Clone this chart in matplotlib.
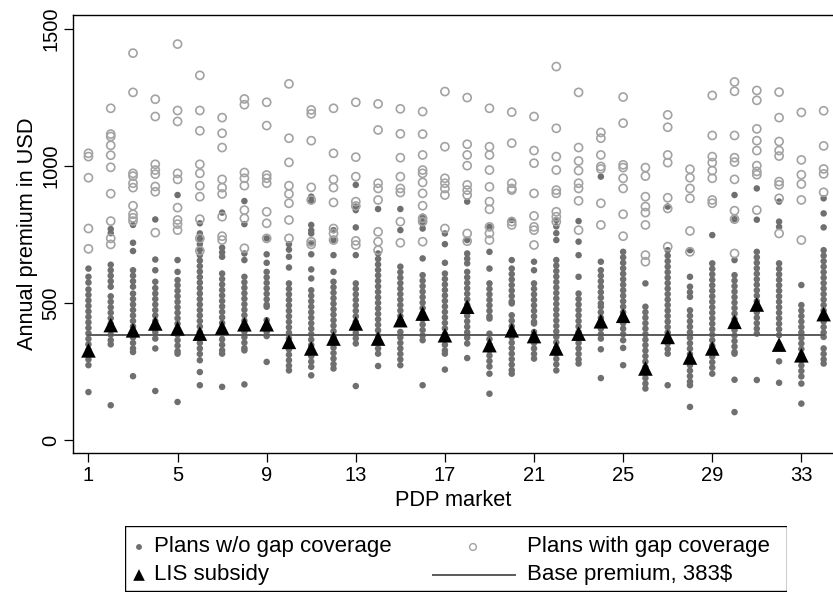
import matplotlib
matplotlib.use("Agg")
import matplotlib.pyplot as plt
from matplotlib.patches import Rectangle
from matplotlib.lines import Line2D

plt.rcParams['font.family'] = ['Liberation Sans', 'DejaVu Sans']

markets = list(range(1, 35))
base_premium = 383

lis_subsidy = [328, 420, 401, 426, 408, 389, 411, 423, 423, 359, 335, 371, 426, 371,
               438, 462, 383, 487, 347, 401, 380, 335, 389, 434, 454, 262, 377, 302,
               335, 432, 495, 349, 310, 460]

plans_no_gap = [
    [626, 596, 575, 550, 530, 510, 490, 470, 450, 430, 410, 390, 370, 350, 330, 310, 295, 274, 176],
    [770, 755, 640, 620, 600, 580, 560, 525, 505, 485, 465, 445, 425, 405, 385, 365, 350, 128],
    [785, 720, 690, 620, 600, 580, 560, 535, 515, 495, 475, 455, 435, 415, 395, 375, 355, 335, 322, 234],
    [805, 659, 620, 578, 555, 535, 515, 495, 475, 455, 435, 415, 395, 371, 335, 180],
    [894, 657, 614, 584, 565, 545, 525, 505, 485, 465, 445, 425, 405, 385, 365, 345, 325, 316, 140],
    [791, 754, 735, 715, 695, 675, 655, 635, 615, 595, 575, 555, 535, 515, 495, 475, 455, 435, 415,
     395, 375, 355, 335, 315, 292, 249, 201],
    [830, 702, 685, 669, 608, 588, 568, 548, 528, 508, 488, 468, 448, 428, 408, 388, 368, 348, 328, 316, 195],
    [872, 788, 681, 657, 596, 576, 556, 536, 516, 496, 476, 456, 436, 416, 396, 376, 356, 336, 328, 204],
    [736, 678, 647, 614, 594, 574, 554, 534, 514, 494, 487, 438, 420, 408, 395, 380, 286],
    [715, 695, 669, 630, 572, 552, 532, 512, 492, 472, 452, 432, 412, 392, 372, 352, 332, 312, 292, 272, 255],
    [888, 872, 785, 765, 754, 718, 678, 623, 590, 547, 527, 507, 487, 467, 447, 427, 407, 387, 367,
     347, 327, 307, 287, 268, 237],
    [766, 730, 675, 614, 578, 558, 538, 518, 498, 478, 458, 438, 418, 398, 378, 358, 338, 318, 298, 278, 262],
    [931, 852, 839, 776, 675, 572, 552, 532, 512, 492, 472, 452, 432, 412, 392, 372, 353, 198],
    [843, 681, 661, 641, 621, 601, 581, 561, 541, 521, 501, 481, 461, 441, 421, 401, 381, 365, 335, 316, 271],
    [843, 766, 633, 613, 593, 573, 553, 533, 513, 493, 473, 453, 438, 395, 375, 355, 335, 315, 295, 274],
    [815, 795, 772, 663, 602, 582, 562, 542, 522, 502, 482, 462, 442, 422, 402, 382, 365, 201],
    [754, 715, 647, 608, 588, 568, 548, 528, 508, 488, 468, 448, 428, 408, 388, 368, 348, 328, 316, 258],
    [870, 730, 681, 662, 645, 614, 594, 574, 554, 534, 514, 494, 474, 454, 434, 414, 394, 374, 353, 300],
    [778, 687, 626, 572, 552, 532, 512, 492, 472, 452, 444, 389, 369, 349, 329, 309, 289, 269, 243, 170],
    [803, 657, 626, 606, 586, 566, 546, 526, 506, 499, 456, 436, 416, 396, 376, 356, 336, 316, 296, 276, 256, 243],
    [651, 620, 572, 552, 532, 512, 492, 472, 452, 432, 426, 395, 375, 355, 335, 315, 298],
    [803, 780, 755, 730, 657, 637, 617, 597, 577, 557, 537, 517, 497, 477, 457, 437, 417, 397, 377,
     357, 337, 317, 297, 277, 255],
    [799, 724, 675, 596, 535, 515, 495, 475, 455, 435, 415, 395, 375, 355, 335, 315, 295, 280],
    [961, 651, 620, 600, 580, 560, 540, 520, 499, 487, 467, 447, 427, 407, 387, 371, 332, 227],
    [687, 667, 647, 627, 607, 587, 567, 547, 527, 507, 487, 467, 447, 427, 407, 387, 365, 337, 274],
    [572, 487, 467, 447, 427, 407, 387, 367, 347, 327, 307, 287, 267, 247, 227, 207, 189],
    [852, 693, 673, 653, 633, 613, 593, 573, 553, 533, 513, 493, 473, 453, 433, 413, 393, 373, 353, 333, 316, 201],
    [693, 596, 560, 540, 523, 474, 454, 434, 414, 394, 374, 354, 334, 314, 294, 274, 254, 234, 214, 201, 122],
    [748, 645, 625, 605, 585, 565, 545, 525, 505, 485, 465, 445, 425, 405, 385, 365, 345, 325, 305, 285, 265, 243],
    [894, 806, 657, 602, 582, 562, 542, 522, 502, 482, 462, 442, 422, 402, 382, 362, 342, 322, 316, 221, 103],
    [918, 804, 687, 667, 647, 627, 607, 587, 567, 547, 527, 507, 487, 467, 447, 427, 407, 389, 220],
    [870, 797, 778, 645, 625, 605, 585, 565, 545, 525, 505, 485, 465, 445, 425, 405, 384, 349, 288, 210],
    [566, 493, 473, 453, 433, 413, 393, 373, 353, 333, 313, 293, 273, 253, 233, 207, 134],
    [882, 827, 776, 693, 673, 653, 633, 613, 593, 573, 553, 533, 513, 493, 473, 453, 433, 413, 393,
     377, 335, 315, 295, 280],
]

plans_gap = [
    [1046, 1034, 957, 772, 698],
    [1210, 1116, 1107, 1075, 1039, 995, 899, 799, 736, 714],
    [1411, 1268, 973, 963, 937, 921, 855, 824, 811, 799],
    [1243, 1180, 1006, 985, 970, 925, 906, 757],
    [1444, 1202, 1162, 973, 951, 848, 803, 788, 766],
    [1330, 1202, 1128, 1006, 973, 928, 888, 806, 736, 691],
    [1176, 1119, 1067, 951, 921, 898, 815, 744, 730],
    [1244, 1223, 976, 955, 928, 839, 809, 700],
    [1232, 1147, 967, 955, 937, 833, 791, 736],
    [1299, 1101, 1013, 928, 898, 864, 803, 736],
    [1204, 1190, 1092, 922, 876, 724, 714],
    [1210, 1046, 951, 921, 867, 772, 754, 730],
    [1232, 1032, 961, 870, 854, 727, 712],
    [1226, 1131, 937, 918, 876, 760, 724, 693],
    [1208, 1117, 1030, 961, 918, 903, 797, 720],
    [1198, 1116, 1040, 985, 973, 940, 900, 855, 809, 797, 724],
    [1271, 1070, 955, 937, 918, 894, 772],
    [1249, 1079, 1040, 1001, 931, 912, 894, 754, 726],
    [1210, 1070, 1040, 985, 924, 870, 842, 778, 754, 730],
    [1196, 1083, 937, 918, 912, 797, 785],
    [1180, 1056, 1010, 900, 818, 778, 766, 712],
    [1362, 1137, 1034, 985, 912, 900, 833, 815, 797],
    [1268, 1067, 1018, 983, 937, 918, 873, 766],
    [1122, 1101, 1040, 998, 989, 864, 785],
    [1251, 1156, 1004, 994, 955, 918, 824, 744],
    [994, 963, 888, 852, 830, 785, 675, 651],
    [1186, 1141, 1040, 1012, 884, 845, 706],
    [988, 957, 918, 882, 763, 687],
    [1257, 1111, 1034, 1012, 983, 955, 876, 864],
    [1306, 1272, 1111, 1030, 1014, 951, 837, 806, 681],
    [1275, 1239, 1135, 1092, 1056, 1001, 980, 968, 839],
    [1269, 1176, 1089, 1056, 1036, 943, 931, 882, 754],
    [1195, 1022, 968, 934, 876, 730],
    [1201, 1073, 989, 971, 904],
]

xticks = [1, 5, 9, 13, 17, 21, 25, 29, 33]
yticks = [0, 500, 1000, 1500]

col_filled = '#6f6f6f'
col_hollow = '#a3a3a3'
col_line = '#5a5a5a'

W, H = 833, 599
fig = plt.figure(figsize=(W / 100, H / 100), dpi=100)
ax = fig.add_axes([73.3 / W, (H - 453.3) / H, (W - 73.3) / W, (453.3 - 14.7) / H])

for m, vals in zip(markets, plans_no_gap):
    ax.scatter([m] * len(vals), vals, s=22, color=col_filled, edgecolors='none', zorder=2)
for m, vals in zip(markets, plans_gap):
    ax.scatter([m] * len(vals), vals, s=34, facecolors='none', edgecolors=col_hollow,
               linewidths=1.2, zorder=3)
ax.plot([markets[0], markets[-1]], [base_premium, base_premium], color=col_line, lw=1.4, zorder=4)
ax.scatter(markets, lis_subsidy, marker='^', s=110, color='black', edgecolors='none', zorder=5)

ax.set_xlim(0.32, 34.42)
ax.set_ylim(-47, 1551)
ax.set_xticks(xticks)
ax.set_yticks(yticks)
ax.tick_params(axis='both', length=6.5, width=0.9, labelsize=14.5, colors='black', pad=3)
for lab in ax.get_yticklabels():
    lab.set_rotation(90)
    lab.set_va('center')
ax.spines['right'].set_visible(False)
for side in ['left', 'bottom', 'top']:
    ax.spines[side].set_linewidth(1.0)
ax.set_xlabel('PDP market', fontsize=15.7, labelpad=3)
ax.set_ylabel('Annual premium in USD', fontsize=15.7, labelpad=2)

# legend box
lx0, lx1, ly0, ly1 = 125, 787, 526, 592
lax = fig.add_axes([lx0 / W, (H - ly1) / H, (lx1 - lx0) / W, (ly1 - ly0) / H])
lax.set_xlim(lx0, lx1)
lax.set_ylim(ly1, ly0)
lax.axis('off')
lax.add_patch(Rectangle((lx0 + 0.5, ly0 + 0.5), lx1 - lx0 - 1, ly1 - ly0 - 1, fill=False,
                        edgecolor='black', lw=1.0))
r1, r2 = 547, 575
fs_leg = 16
lax.scatter([139], [r1], s=18, color=col_filled, edgecolors='none')
lax.text(154, r1, 'Plans w/o gap coverage', fontsize=fs_leg, va='center', ha='left')
lax.scatter([473], [r1], s=24, facecolors='none', edgecolors=col_hollow, linewidths=1.0)
lax.text(527, r1, 'Plans with gap coverage', fontsize=fs_leg, va='center', ha='left')
lax.scatter([139], [r2], marker='^', s=70, color='black', edgecolors='none')
lax.text(154, r2, 'LIS subsidy', fontsize=fs_leg, va='center', ha='left')
lax.add_line(Line2D([433, 515], [r2, r2], color=col_line, lw=1.4))
lax.text(527, r2, 'Base premium, 383$', fontsize=fs_leg, va='center', ha='left')

fig.savefig('out.png', dpi=100)
